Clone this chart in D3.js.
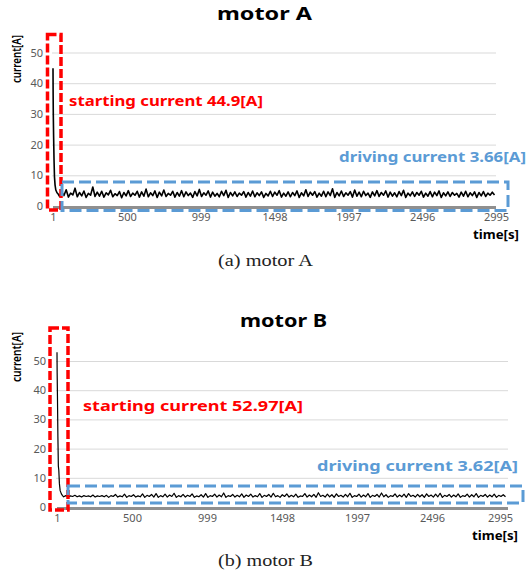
<!DOCTYPE html>
<html><head><meta charset="utf-8">
<script src="https://cdn.jsdelivr.net/npm/d3@7"></script>
<style>
html,body{margin:0;padding:0;background:#fff;}
svg{display:block;}
</style></head>
<body>
<svg id="chart" width="527" height="572"></svg>
<script>
// ---------- data ----------
const xTicks = [1, 500, 999, 1498, 1997, 2496, 2995];
const yTicks = [0, 10, 20, 30, 40, 50];

const titleA = "motor A", titleB = "motor B";
const captionA = "(a)  motor  A", captionB = "(b)  motor  B";
const startLabelA = "starting current 44.9[A]";
const driveLabelA = "driving current 3.66[A]";
const startLabelB = "starting current 52.97[A]";
const driveLabelB = "driving current 3.62[A]";

// start-up transient (time [s], current [A])
const startTimeA = [1, 2, 3, 5, 8, 11, 15, 20, 28, 36];
const startCurrentA = [44.9, 36, 30, 23, 15, 9.5, 6.8, 5.2, 4.3, 3.9];
const startTimeB = [1, 2, 4, 7, 10, 13, 17, 22, 30, 38];
const startCurrentB = [52.97, 46, 38, 24, 14, 12.6, 8.0, 5.6, 4.5, 3.9];

// steady-state samples, every 15 s from t = 45 s
const driveStart = 45, driveStep = 15;
const driveCurrentA = [
3.1,4.6,3.4,5.3,2.9,4.2,3.6,5.8,3.0,4.4,
3.3,4.9,2.8,4.1,3.5,6.2,3.1,4.5,3.2,4.8,
2.9,4.3,3.6,5.1,3.0,4.0,3.4,4.7,2.7,4.4,
3.3,5.0,3.1,4.2,3.5,4.8,2.9,4.6,3.2,5.5,
3.0,4.3,3.4,4.9,2.8,4.5,3.3,5.2,3.1,4.1,
3.5,4.8,2.9,4.4,3.2,5.0,3.0,4.6,3.4,4.2,
2.8,4.7,3.3,5.4,3.1,4.3,3.5,4.9,2.9,4.5,
3.2,4.1,3.0,4.8,3.4,5.1,2.8,4.4,3.3,4.6,
3.1,4.2,3.5,4.7,2.9,4.4,3.2,4.9,3.0,4.3,
3.4,4.6,2.8,4.1,3.3,4.8,3.1,4.5,3.5,5.0,
2.9,4.2,3.2,4.6,3.0,4.4,3.4,4.9,2.8,4.3,
3.3,5.3,3.1,4.5,3.5,4.7,2.9,4.2,3.2,4.8,
3.0,4.6,3.4,5.6,2.8,4.4,3.3,4.9,3.1,4.3,
3.5,4.7,2.9,5.2,3.2,4.5,3.0,4.8,3.4,4.2,
2.8,4.6,3.3,5.0,3.1,4.4,3.5,4.9,2.9,4.5,
3.2,4.3,3.0,4.7,3.4,5.1,2.8,4.2,3.3,4.6,
3.1,4.4,3.5,4.8,2.9,4.2,3.2,4.7,3.0,4.5,
3.4,4.9,2.8,4.3,3.3,4.6,3.1,4.4,3.5,4.1,
2.9,4.5,3.2,4.8,3.0,4.3,3.4,4.6,2.8,4.4,
3.3,4.7,3.1,4.2,3.5,4.5,3.6
];
const driveCurrentB = [
3.5,3.9,3.4,3.8,3.6,4.0,3.5,3.8,3.4,3.9,
3.6,3.8,3.5,4.1,3.4,3.8,3.6,3.9,3.5,4.0,
3.3,3.9,3.6,4.3,3.4,3.8,3.5,4.4,3.3,3.9,
3.6,4.2,3.4,3.8,3.5,4.5,3.3,4.0,3.6,4.3,
3.4,4.6,3.3,3.9,3.5,4.4,3.4,4.1,3.6,4.7,
3.3,3.9,3.5,4.3,3.4,4.0,3.6,4.5,3.3,3.8,
3.5,4.2,3.4,4.6,3.3,3.9,3.6,4.4,3.4,4.1,
3.5,4.8,3.3,3.9,3.6,4.3,3.4,4.0,3.5,4.5,
3.3,4.1,3.6,4.4,3.4,3.9,3.5,4.6,3.3,4.0,
3.6,4.3,3.4,4.7,3.5,3.9,3.3,4.2,3.6,4.5,
3.4,4.0,3.5,4.4,3.3,3.8,3.6,4.6,3.4,4.1,
3.5,4.3,3.3,4.9,3.6,4.0,3.4,4.4,3.5,4.2,
3.3,4.5,3.6,4.0,3.4,4.3,3.5,4.7,3.3,3.9,
3.6,4.4,3.4,4.1,3.5,4.6,3.3,4.0,3.6,4.3,
3.4,4.8,3.5,4.2,3.3,3.9,3.6,4.5,3.4,4.1,
3.5,4.4,3.3,4.6,3.6,4.0,3.4,4.3,3.5,4.2,
3.3,4.5,3.6,4.1,3.4,4.4,3.5,4.7,3.3,4.0,
3.6,4.3,3.4,4.1,3.5,4.5,3.3,3.9,3.6,4.4,
3.4,4.2,3.5,4.6,3.3,4.0,3.6,4.3,3.4,4.1,
3.5,4.4,3.3,4.0,3.6,4.2,3.5
];

// ---------- drawing ----------
const svg = d3.select("#chart");
const SANS = "'Noto Sans', 'Open Sans', sans-serif";
const RED = "#FF0000", BLUE = "#5B9BD5";

function drawChart(o) {
  const g = svg.append("g");
  const x = d3.scaleLinear().domain([1, 2995]).range([o.x0, o.x1]);
  const y = d3.scaleLinear().domain([0, 50]).range([o.y0, o.y50]);

  // gridlines
  g.append("g").attr("transform", `translate(${o.x0 - 1},0)`)
    .call(d3.axisLeft(y).tickValues(yTicks.filter(v => v > 0)).tickSize(-(o.gridR - o.x0 + 1)).tickFormat(""))
    .call(s => s.select(".domain").remove())
    .call(s => s.selectAll("line").attr("stroke", "#D9D9D9").attr("stroke-width", 1));

  // y tick labels
  g.append("g").attr("transform", `translate(${o.yLabX},0)`)
    .call(d3.axisLeft(y).tickValues(yTicks).tickSize(0).tickPadding(0))
    .call(s => s.select(".domain").remove())
    .call(s => s.selectAll("text").attr("font-family", SANS).attr("font-size", 11).attr("fill", "#595959"));

  // x axis gray baseline
  g.append("line").attr("x1", o.x0).attr("x2", o.gridR)
    .attr("y1", y(0) + 1.5).attr("y2", y(0) + 1.5)
    .attr("stroke", "#8F8F8F").attr("stroke-width", 3);

  // x tick labels
  g.append("g").attr("transform", `translate(0,${o.xLabY})`)
    .call(d3.axisBottom(x).tickValues(xTicks).tickSize(0).tickPadding(0).tickFormat(d3.format("d")))
    .call(s => s.select(".domain").remove())
    .call(s => s.selectAll("text").attr("font-family", SANS).attr("font-size", 11).attr("fill", "#595959")
      .attr("dy", "0.32em")
      .attr("dx", d => d === 2995 ? o.lastShift : 0));

  // data line
  const pts = o.startT.map((t, i) => [t, o.startV[i]])
    .concat(o.drive.map((v, i) => [driveStart + i * driveStep, v]));
  g.append("path").datum(pts)
    .attr("fill", "none").attr("stroke", "#000").attr("stroke-width", o.lineW)
    .attr("stroke-linejoin", "round")
    .attr("d", d3.line().x(d => x(d[0])).y(d => y(d[1])));

  // title
  g.append("text").attr("x", o.titleX).attr("y", o.titleY)
    .attr("font-family", SANS).attr("font-weight", 700).attr("font-size", 17)
    .attr("textLength", o.titleW).attr("lengthAdjust", "spacingAndGlyphs")
    .text(o.title);

  // axis titles
  g.append("text")
    .attr("transform", `translate(${o.yTitleX},${o.yTitleY}) rotate(-90)`)
    .attr("text-anchor", "middle").attr("font-family", SANS).attr("font-weight", 600)
    .attr("font-size", 12).attr("textLength", o.yTitleW).attr("lengthAdjust", "spacingAndGlyphs")
    .text("current[A]");
  g.append("text").attr("x", o.xTitleX).attr("y", o.xTitleY)
    .attr("font-family", SANS).attr("font-weight", 700).attr("font-size", 13)
    .attr("textLength", 46).attr("lengthAdjust", "spacingAndGlyphs")
    .text("time[s]");

  // annotation boxes
  g.append("rect").attr("x", o.red[0]).attr("y", o.red[1])
    .attr("width", o.red[2] - o.red[0]).attr("height", o.red[3] - o.red[1])
    .attr("fill", "none").attr("stroke", RED).attr("stroke-width", 3.5).attr("stroke-dasharray", "9,3");
  g.append("rect").attr("x", o.blue[0]).attr("y", o.blue[1])
    .attr("width", o.blue[2] - o.blue[0]).attr("height", o.blue[3] - o.blue[1])
    .attr("fill", "none").attr("stroke", BLUE).attr("stroke-width", 3).attr("stroke-dasharray", "12,5");

  // annotation texts
  g.append("text").attr("x", o.redTxt[0]).attr("y", o.redTxt[1])
    .attr("font-family", SANS).attr("font-weight", 700).attr("font-size", 14).attr("fill", RED)
    .attr("textLength", o.redTxt[2]).attr("lengthAdjust", "spacingAndGlyphs")
    .text(o.startLabel);
  g.append("text").attr("x", o.blueTxt[0]).attr("y", o.blueTxt[1])
    .attr("font-family", SANS).attr("font-weight", 700).attr("font-size", 14).attr("fill", BLUE)
    .attr("textLength", o.blueTxt[2]).attr("lengthAdjust", "spacingAndGlyphs")
    .text(o.driveLabel);

  // caption
  svg.append("text").attr("x", o.capX).attr("y", o.capY)
    .attr("font-family", "'Liberation Serif', 'DejaVu Serif', serif").attr("font-size", 16)
    .attr("fill", "#222").attr("textLength", 95).attr("lengthAdjust", "spacingAndGlyphs")
    .text(o.caption);
}

drawChart({
  title: titleA, caption: captionA, startLabel: startLabelA, driveLabel: driveLabelA,
  startT: startTimeA, startV: startCurrentA, drive: driveCurrentA,
  x0: 53, x1: 496, gridR: 496, y0: 206, y50: 52.5, lineW: 1.6,
  yLabX: 43, xLabY: 217, lastShift: 0,
  titleX: 217, titleY: 20, titleW: 95,
  yTitleX: 21, yTitleY: 59, yTitleW: 48,
  xTitleX: 473, xTitleY: 239,
  red: [47.5, 34.5, 61, 210], blue: [62, 182, 508, 210.5],
  redTxt: [69, 106, 194], blueTxt: [339, 162, 187],
  capX: 218, capY: 266
});

drawChart({
  title: titleB, caption: captionB, startLabel: startLabelB, driveLabel: driveLabelB,
  startT: startTimeB, startV: startCurrentB, drive: driveCurrentB,
  x0: 57, x1: 507, gridR: 508, y0: 507, y50: 361, lineW: 1.2,
  yLabX: 46, xLabY: 518, lastShift: -7,
  titleX: 240, titleY: 327, titleW: 87,
  yTitleX: 21, yTitleY: 357, yTitleW: 50,
  xTitleX: 472, xTitleY: 540,
  red: [50, 328, 68, 510], blue: [68, 486, 523, 503],
  redTxt: [83, 411, 220], blueTxt: [317, 471, 201],
  capX: 218, capY: 566
});
</script>
</body></html>
